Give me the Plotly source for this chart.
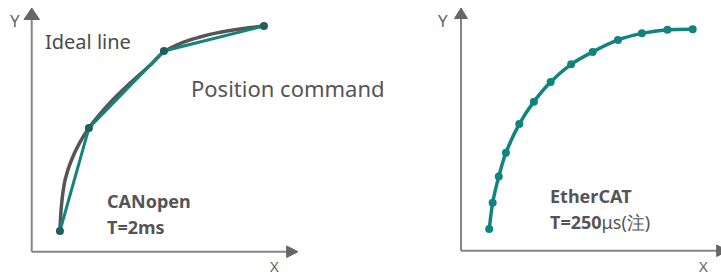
import plotly.graph_objects as go

W, H = 721, 277

# ---- data (arbitrary units) ----
ideal_x = [10.5, 10.8, 11.5, 12.6, 14.7, 17.7, 21.1, 25.6, 30.5, 35.7, 41.0, 45.5, 49.6, 56.8, 63.2, 69.5, 78.2, 87.2]
ideal_y = [8.6, 15.2, 23.4, 30.3, 37.3, 44.3, 50.4, 56.6, 62.5, 68.0, 73.2, 77.7, 82.0, 85.9, 88.1, 89.8, 91.4, 92.6]

canopen_x = [10.5, 21.4, 49.6, 87.2]
canopen_y = [8.6, 50.8, 82.4, 92.6]

ethercat_x = [10.6, 11.9, 14.2, 16.9, 21.9, 27.4, 33.7, 41.4, 49.5, 59.0, 68.0, 77.6, 87.1]
ethercat_y = [9.0, 19.8, 30.5, 40.3, 52.0, 61.2, 69.3, 76.5, 81.6, 86.5, 89.2, 90.7, 90.9]

TEAL = "#12847f"
TEAL_DARK = "#1f5f5c"
GRAY = "#555555"
AXIS = "#858585"
TXT = "#555555"


def px(x):
    return x / W


def py(y):
    return 1 - y / H


fig = go.Figure()

fig.add_trace(go.Scatter(x=ideal_x, y=ideal_y, mode="lines",
                         line=dict(color=GRAY, width=3.5, shape="spline", smoothing=1.0),
                         xaxis="x", yaxis="y", hoverinfo="skip"))
fig.add_trace(go.Scatter(x=canopen_x, y=canopen_y, mode="lines+markers",
                         line=dict(color=TEAL, width=3),
                         marker=dict(color=TEAL_DARK, size=8),
                         xaxis="x", yaxis="y"))
fig.add_trace(go.Scatter(x=ethercat_x, y=ethercat_y, mode="lines+markers",
                         line=dict(color=TEAL, width=3.5, shape="spline", smoothing=0.6),
                         marker=dict(color=TEAL, size=8),
                         xaxis="x2", yaxis="y2"))

ax_common = dict(showgrid=False, zeroline=False, showticklabels=False, ticks="",
                 showline=False, fixedrange=True)

shapes = []


def line(x0, y0, x1, y1):
    shapes.append(dict(type="line", xref="paper", yref="paper",
                       x0=px(x0), y0=py(y0), x1=px(x1), y1=py(y1),
                       line=dict(color=AXIS, width=2), layer="below"))


def tri(pts):
    p = "M " + " L ".join(f"{px(a):.5f},{py(b):.5f}" for a, b in pts) + " Z"
    shapes.append(dict(type="path", xref="paper", yref="paper", path=p,
                       fillcolor="#666666", line=dict(color="#666666", width=1)))


# left axes
line(31.7, 251.7, 31.7, 18)
line(31.7, 251.7, 288, 251.7)
tri([(24, 19.5), (39.5, 19.5), (31.7, 8)])
tri([(286.7, 246), (286.7, 257.5), (298, 251.7)])
# right axes
line(461, 250.7, 461, 17)
line(461, 250.7, 718, 250.7)
tri([(454.5, 18.5), (467.5, 18.5), (461, 8)])
tri([(716.7, 245), (716.7, 256.5), (728, 250.7)])

annotations = []


def text(t, x, y, size, color=TXT, anchor="left", family="Noto Sans"):
    annotations.append(dict(text=t, xref="paper", yref="paper", x=px(x), y=py(y),
                            xanchor=anchor, yanchor="middle", showarrow=False,
                            font=dict(family=family, size=size, color=color)))


text("Y", 15, 21, 17, "#666666", "center")
text("X", 274.5, 266, 15, "#666666", "center")
text("Y", 443, 21, 17, "#666666", "center")
text("X", 703, 266, 15, "#666666", "center")
text("Ideal line", 43, 42, 20, "#4a4a4a")
text("Position command", 189, 88, 22, TXT)
text("<b>CANopen</b>", 105, 201, 18, TXT)
text("<b>T=2ms</b>", 105, 226.5, 18, TXT)
text("<b>EtherCAT</b>", 548, 196, 18, TXT)
text("<b>T=250</b>μs(注)", 548, 221.5, 18, TXT)

fig.update_layout(
    width=W, height=H,
    margin=dict(l=0, r=0, t=0, b=0),
    paper_bgcolor="white", plot_bgcolor="rgba(0,0,0,0)",
    showlegend=False,
    xaxis=dict(domain=[px(32), px(298)], range=[0, 100], anchor="y", **ax_common),
    yaxis=dict(domain=[py(252), py(8)], range=[0, 100], anchor="x", **ax_common),
    xaxis2=dict(domain=[px(461), 1.0], range=[0, 260 / 2.66], anchor="y2", **ax_common),
    yaxis2=dict(domain=[py(251), py(7)], range=[0, 100], anchor="x2", **ax_common),
    shapes=shapes,
    annotations=annotations,
)

fig.write_html(
    "out.html",
    config={"displayModeBar": False},
    post_script="document.body.style.margin='0';document.body.style.overflow='hidden';",
)
